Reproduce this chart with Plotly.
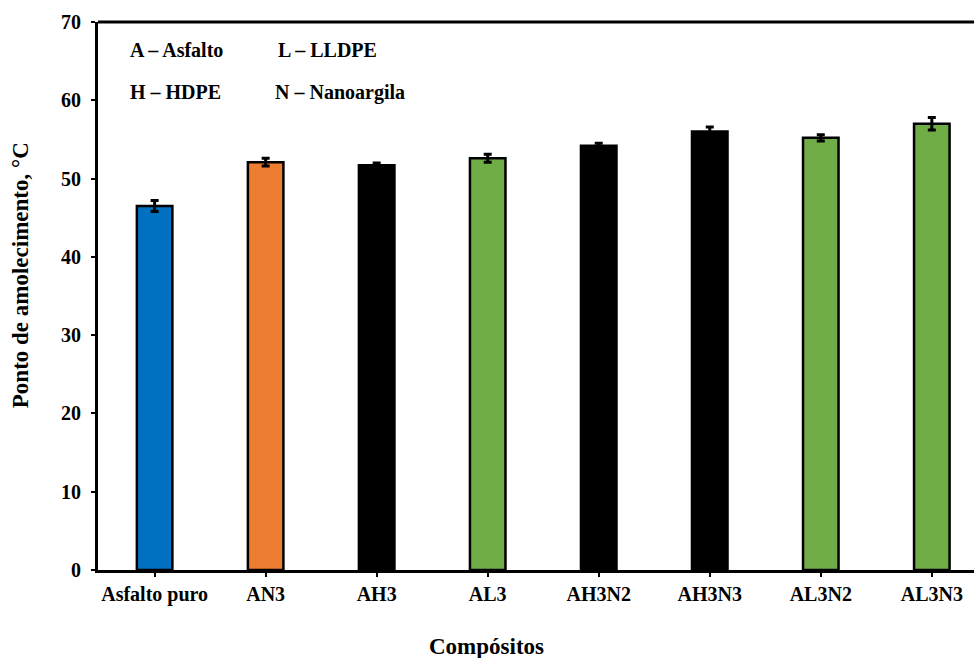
import plotly.graph_objects as go

# Softening point of asphalt composites
categorias = ["Asfalto puro", "AN3", "AH3", "AL3", "AH3N2", "AH3N3", "AL3N2", "AL3N3"]
ponto_amolecimento = [46.5, 52.1, 51.7, 52.6, 54.2, 56.0, 55.2, 57.0]
desvio = [0.7, 0.5, 0.3, 0.5, 0.3, 0.6, 0.4, 0.8]
cores = ["#0070C0", "#ED7D31", "#000000", "#70AD47", "#000000", "#000000", "#70AD47", "#70AD47"]

legenda_siglas = [
    ("A – Asfalto", 0.034, 0.949),
    ("L – LLDPE", 0.203, 0.949),
    ("H – HDPE", 0.034, 0.872),
    ("N – Nanoargila", 0.2, 0.872),
]

titulo_x = "Compósitos"
titulo_y = "Ponto de amolecimento, °C"

FONTE = "Liberation Serif"
X_RANGE = [-0.51, 7.38]
Y_RANGE = [0, 70]

fig = go.Figure()
fig.add_trace(go.Bar(
    x=categorias,
    y=ponto_amolecimento,
    width=0.32,
    marker=dict(color=cores, line=dict(color="#000000", width=2.5)),
    error_y=dict(type="data", array=desvio, visible=True,
                 color="#000000", thickness=3, width=4),
    showlegend=False,
))

for texto, x, y in legenda_siglas:
    fig.add_annotation(
        text=f"<b>{texto}</b>", x=x, y=y, xref="paper", yref="paper",
        xanchor="left", yanchor="middle", showarrow=False,
        font=dict(family=FONTE, size=20, color="#000000"),
    )

# axis titles
fig.add_annotation(
    text=f"<b>{titulo_x}</b>", x=0.444, y=-0.14, xref="paper", yref="paper",
    xanchor="center", yanchor="middle", showarrow=False,
    font=dict(family=FONTE, size=23, color="#000000"),
)
fig.add_annotation(
    text=f"<b>{titulo_y}</b>", x=-0.089, y=0.538, xref="paper", yref="paper",
    xanchor="center", yanchor="middle", showarrow=False, textangle=-90,
    font=dict(family=FONTE, size=23, color="#000000"),
)

fig.update_layout(
    width=974, height=658,
    margin=dict(l=98, r=0, t=22, b=88),
    paper_bgcolor="white", plot_bgcolor="white",
    font=dict(family=FONTE, color="#000000"),
    bargap=0.5,
    # companion axes drawing the inner half of the ticks
    xaxis2=dict(overlaying="x", anchor="y", side="bottom", range=X_RANGE,
                tickvals=list(range(len(categorias))), showticklabels=False,
                ticks="inside", ticklen=4, tickwidth=2, tickcolor="#000000",
                showgrid=False, zeroline=False, showline=False),
    yaxis2=dict(overlaying="y", anchor="x", side="left", range=Y_RANGE,
                dtick=5, showticklabels=False,
                ticks="inside", ticklen=5, tickwidth=2, tickcolor="#000000",
                showgrid=False, zeroline=False, showline=False),
)

fig.update_xaxes(
    selector=dict(overlaying=None),
    range=X_RANGE,
    showline=True, linecolor="#000000", linewidth=3, mirror=False,
    ticks="outside", ticklen=4, tickwidth=2, tickcolor="#000000",
    tickfont=dict(family=FONTE, size=20, color="#000000"),
    tickprefix="<b>", ticksuffix="</b>",
    showgrid=False, zeroline=False,
)

fig.update_yaxes(
    selector=dict(overlaying=None),
    range=Y_RANGE, dtick=10,
    showline=True, linecolor="#000000", linewidth=3,
    ticks="outside", ticklen=4, tickwidth=2, tickcolor="#000000",
    ticklabelstandoff=6,
    tickfont=dict(family=FONTE, size=20, color="#000000"),
    tickprefix="<b>", ticksuffix="</b>",
    showgrid=False, zeroline=False,
)

# top border of the plotting area
fig.add_shape(type="line", xref="paper", yref="paper", x0=0, x1=1, y0=1, y1=1,
              line=dict(color="#000000", width=3))

fig.write_html("out.html")
